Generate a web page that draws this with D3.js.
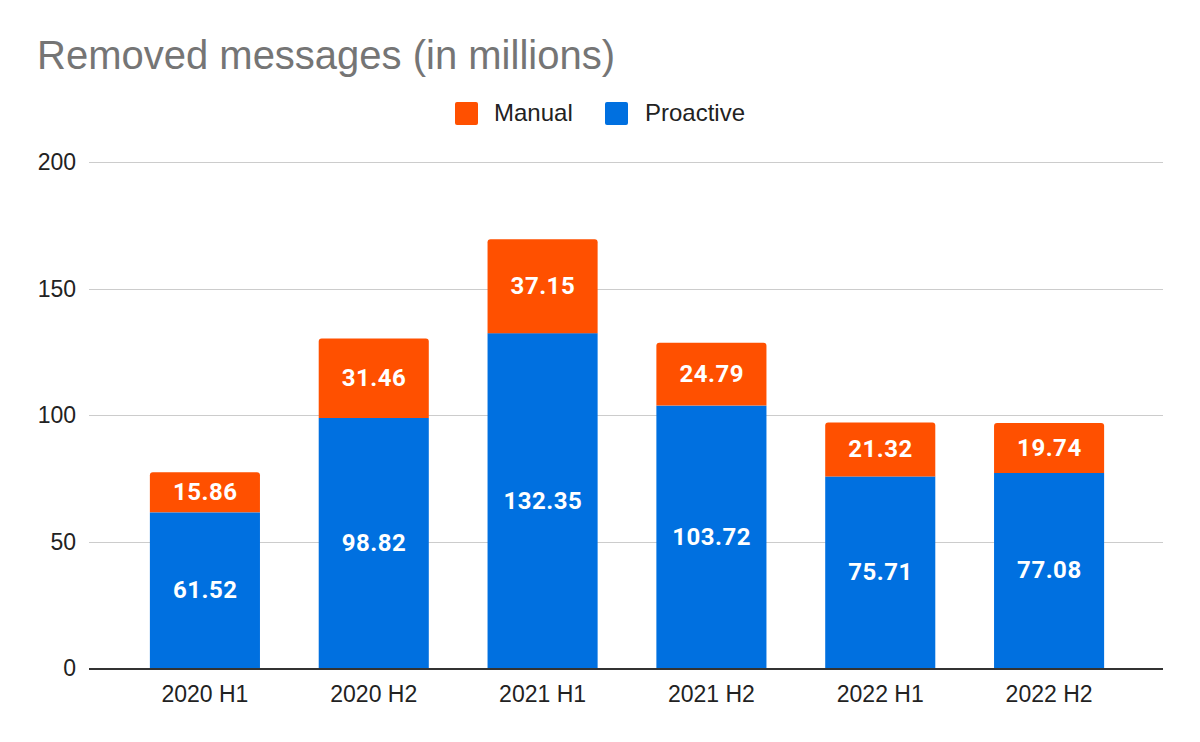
<!DOCTYPE html>
<html><head><meta charset="utf-8">
<script src="https://cdn.jsdelivr.net/npm/d3@7"></script>
<style>body{margin:0;background:#fff}svg{display:block}</style>
</head><body>
<svg id="c" width="1200" height="742"></svg>
<script>
const categories = ["2020 H1","2020 H2","2021 H1","2021 H2","2022 H1","2022 H2"];
const proactive = [61.52, 98.82, 132.35, 103.72, 75.71, 77.08];
const manual = [15.86, 31.46, 37.15, 24.79, 21.32, 19.74];
const seriesNames = ["Manual","Proactive"];
const colors = {Manual:"#ff5000", Proactive:"#0070e0"};
const yTicks = [0,50,100,150,200];

const svg = d3.select("#c");
const font = "Roboto, Arial, sans-serif";
const afont = "Arial, 'Liberation Sans', sans-serif";
const gridL = 89, gridR = 1163;
const x = d3.scaleBand().domain(categories).range([120.5,1133.5]).paddingInner(0.348).paddingOuter(0.174);
const y = d3.scaleLinear().domain([0,200]).range([668,162]);

svg.append("text").attr("x",37).attr("y",69).attr("fill","#757575")
  .attr("font-family",afont).attr("font-size",40)
  .text("Removed messages (in millions)");

// grid
const g = svg.append("g");
g.selectAll("line.grid").data(yTicks.filter(d=>d>0)).join("line")
  .attr("x1",gridL).attr("x2",gridR).attr("y1",d=>Math.round(y(d))+0.5).attr("y2",d=>Math.round(y(d))+0.5)
  .attr("stroke","#cccccc").attr("stroke-width",1);
g.selectAll("text.yt").data(yTicks).join("text")
  .attr("x",76).attr("y",d=>y(d)+8).attr("text-anchor","end")
  .attr("font-family",afont).attr("font-size",23).attr("fill","#222").text(d=>d);

// bars
const data = categories.map((c,i)=>({c, p:proactive[i], m:manual[i]}));
const bw = x.bandwidth();
const r = 3;
data.forEach(d=>{
  const x0 = x(d.c);
  svg.append("rect").attr("x",x0).attr("width",bw).attr("y",y(d.p)).attr("height",y(0)-y(d.p)).attr("fill",colors.Proactive);
  const yt = y(d.p+d.m), yb = y(d.p);
  svg.append("path").attr("fill",colors.Manual)
    .attr("d",`M${x0},${yb}V${yt+r}Q${x0},${yt} ${x0+r},${yt}H${x0+bw-r}Q${x0+bw},${yt} ${x0+bw},${yt+r}V${yb}Z`);
  [[d.p,(y(0)+y(d.p))/2],[d.m,(yt+yb)/2]].forEach(([v,cy])=>{
    svg.append("text").attr("x",x0+bw/2+0.3).attr("y",cy+8).attr("text-anchor","middle")
      .attr("font-family",font).attr("font-weight","bold").attr("font-size",24).attr("letter-spacing",0.5)
      .attr("fill","#fff").text(v.toFixed(2));
  });
});

// x axis
svg.append("line").attr("x1",gridL).attr("x2",gridR).attr("y1",669).attr("y2",669).attr("stroke","#333").attr("stroke-width",2);
svg.selectAll("text.xt").data(categories).join("text")
  .attr("x",d=>x(d)+bw/2).attr("y",701.5).attr("text-anchor","middle")
  .attr("font-family",afont).attr("font-size",23).attr("fill","#222").text(d=>d);

// legend
const leg = [{n:"Manual",sx:455,tx:494},{n:"Proactive",sx:605,tx:645}];
leg.forEach(l=>{
  svg.append("rect").attr("x",l.sx).attr("y",102).attr("width",23).attr("height",23).attr("rx",2).attr("fill",colors[l.n]);
  svg.append("text").attr("x",l.tx).attr("y",121).attr("font-family",afont).attr("font-size",24).attr("fill","#222").text(l.n);
});
</script>
</body></html>
